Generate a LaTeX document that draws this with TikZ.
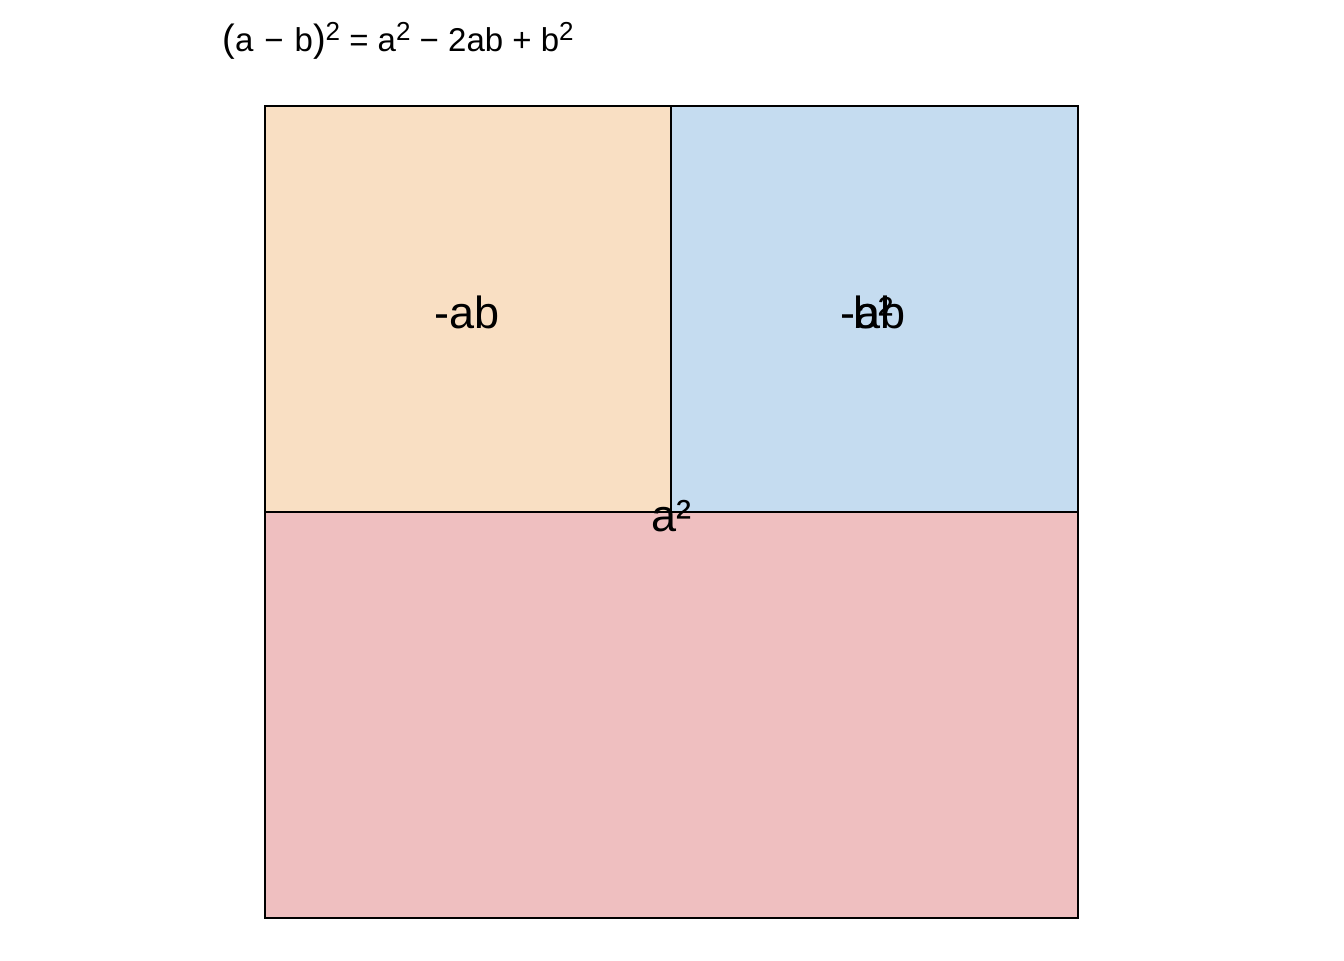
\documentclass[tikz,border=0pt]{standalone}
\usepackage{fontspec}
\setmainfont{Liberation Sans}
\definecolor{cOrange}{HTML}{F9DFC3}
\definecolor{cBlue}{HTML}{C5DCF0}
\definecolor{cRed}{HTML}{EFBFC0}
\begin{document}
\begin{tikzpicture}[x=0.5pt,y=-0.5pt,
  region/.style={draw=black,line width=1.1pt},
  lbl/.style={font=\fontsize{22.5}{26}\selectfont,inner sep=0pt},
  ttl/.style={font=\fontsize{16.5}{19}\selectfont,inner sep=0pt,anchor=west}]
\useasboundingbox (0,0) rectangle (1344,960);
\fill[white] (0,0) rectangle (1344,960);
\filldraw[region,fill=cRed] (265,512) rectangle (1078,918);
\filldraw[region,fill=cOrange] (265,106) rectangle (671,512);
\filldraw[region,fill=cBlue] (671,106) rectangle (1078,512);
\node[lbl] (l1) at (467,312) {-ab};
\node[lbl] (l2) at (873,312) {-ab};
\node[lbl] (l3) at (873,312) {b²};
\node[lbl] (l4) at (671,516) {a²};
\node[ttl] (t) at (222,41) {{\fontsize{19}{19}\selectfont(}a\,\,−\,\,b{\fontsize{19}{19}\selectfont)}\raisebox{0.65ex}{\fontsize{13}{14}\selectfont 2} = a\raisebox{0.65ex}{\fontsize{13}{14}\selectfont 2} − 2ab + b\raisebox{0.65ex}{\fontsize{13}{14}\selectfont 2}};
\end{tikzpicture}
\end{document}
